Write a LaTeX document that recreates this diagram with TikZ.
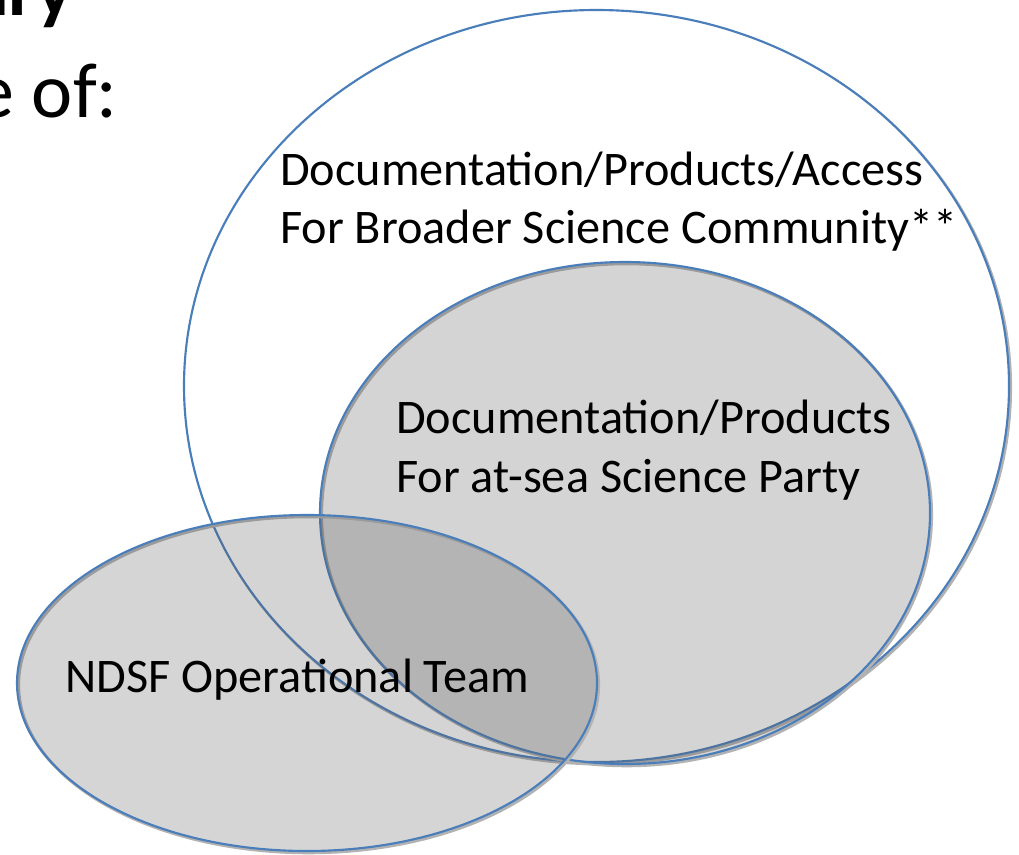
\documentclass[tikz,border=0pt]{standalone}
\usepackage{fontspec}
\setmainfont{Carlito}
\usetikzlibrary{shapes.geometric}
\definecolor{venblue}{HTML}{4A7EBB}
\tikzset{
  x=0.75pt, y=-0.75pt,
  outer/.style={ellipse, draw=venblue, line width=1.6pt, inner sep=0pt},
  shaded/.style={ellipse, draw=venblue, line width=1.6pt, inner sep=0pt,
     fill=black!66, fill opacity=0.25, draw opacity=1},
  shadowline/.style={draw=black!30, line width=2.2pt},
  lbl/.style={font=\fontsize{36.2}{42}\selectfont, inner sep=0pt, text=black},
  big/.style={font=\fontsize{58.5}{64}\selectfont, inner sep=0pt, text=black}
}
\begin{document}
\begin{tikzpicture}
\useasboundingbox (0,0) rectangle (1019,854);
\clip (0,0) rectangle (1019,854);
% header text (cut off at the edge)
\node[big, font=\fontsize{58.5}{64}\selectfont\bfseries, anchor=base east] (ary) at (74,15) {ary};
\node[big, anchor=base east] (eof) at (118,117) {e of:};
% outer ellipse
\coordinate (cc) at (596.5,386);
\path[shadowline] ([shift={(1.6,1.8)}]cc) ellipse [x radius=412.5, y radius=376];
\node[outer, fill=white, minimum width=618.75pt, minimum height=564pt] (community) at (cc) {};
% middle ellipse
\coordinate (pc) at (625,513);
\path[shadowline] ([shift={(1.6,1.8)}]pc) ellipse [x radius=305, y radius=251];
\node[shaded, minimum width=457.5pt, minimum height=376.5pt] (party) at (pc) {};
% bottom ellipse
\coordinate (tc) at (307,683);
\path[shadowline] ([shift={(1.6,1.8)}]tc) ellipse [x radius=290, y radius=168];
\node[shaded, minimum width=435pt, minimum height=252pt] (team) at (tc) {};
% labels
\node[lbl, anchor=base west] (c1) at (280,185) {Documentation/Products/Access};
\node[lbl, anchor=base west] (c2) at (280,243) {For Broader Science Community**};
\node[lbl, anchor=base west] (p1) at (396,433) {Documentation/Products};
\node[lbl, anchor=base west] (p2) at (396,492) {For at-sea Science Party};
\node[lbl, anchor=base west] (t1) at (65,692) {NDSF Operational Team};
\end{tikzpicture}
\end{document}
